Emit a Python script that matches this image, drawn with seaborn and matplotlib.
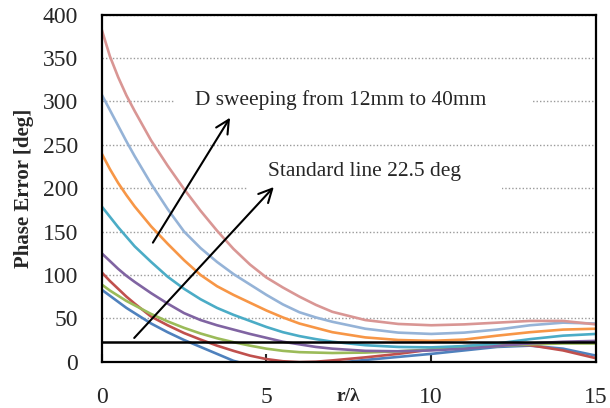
import numpy as np
import pandas as pd
import matplotlib
matplotlib.use("Agg")
import matplotlib.pyplot as plt
from matplotlib.patches import Rectangle
import seaborn as sns

# r/lambda sample positions
r_lambda = [0, 0.25, 0.5, 0.75, 1, 1.5, 2, 2.5, 3, 3.5, 4, 4.5, 5, 5.5, 6, 6.5,
            7, 8, 9, 10, 11, 12, 13, 14, 15]

# phase error [deg] per aperture size D (12mm ... 40mm)
err_blue = [83, 76, 69, 62, 56, 44, 34, 25, 17, 9, 1, -4, -7, -8, -8, -6,
            -2, 2, 5.5, 9, 13, 17, 18.5, 15, 7]
err_red = [103, 93, 84, 75, 67, 52, 42, 33, 25.5, 18.5, 12.5, 7, 3, 0.5, -0.5, 0,
           1.5, 5, 9, 14, 18, 20, 19, 13, 4]
err_green = [89, 82, 76, 70, 65, 55, 46.5, 39, 32.5, 27, 22.5, 18.5, 15, 12.5, 11, 10.5,
             10, 10.5, 12, 14, 16, 18, 20, 21, 21]
err_purple = [125, 116, 107, 99, 92, 79, 67, 56, 48, 42, 37, 32, 27.5, 23, 20, 17,
              15, 12.5, 12, 13, 15, 18, 21, 23, 24]
err_teal = [179, 167, 155, 144, 133, 115, 98, 84, 72, 62, 54, 47, 40, 34, 29.5, 26,
            23, 19, 17, 16.5, 18, 21, 26, 30, 32]
err_orange = [240, 222, 206, 192, 179, 156, 136, 117, 100, 87, 77, 68, 59, 51, 44, 39,
              34, 28, 25, 24, 25.5, 30, 34, 37, 38]
err_lightblue = [308, 290, 272, 254, 237, 205, 176, 150, 131, 115, 101, 89, 77, 66, 57, 51,
                 46, 38, 33.5, 32, 33.5, 37, 42, 45, 44]
err_pink = [383, 352, 328, 307, 289, 255, 226, 199, 174, 151, 130, 112, 97, 85.5, 75, 65.5,
            57.5, 48, 43.5, 42, 43, 45, 47, 47, 43]

series = [err_blue, err_red, err_green, err_purple,
          err_teal, err_orange, err_lightblue, err_pink]
colors = ["#4F81BD", "#C0504D", "#9BBB59", "#8064A2",
          "#4BACC6", "#F79646", "#95B3D7", "#D99694"]

standard_line = 22.5
x_ticks = [0, 5, 10, 15]
y_ticks = [0, 50, 100, 150, 200, 250, 300, 350, 400]

rows = []
for i, vals in enumerate(series):
    for x, y in zip(r_lambda, vals):
        rows.append({"r": x, "err": y, "D": f"D{i}"})
df = pd.DataFrame(rows)

sns.set_style("white")
plt.rcParams["font.family"] = ["Liberation Serif", "DejaVu Serif"]

fig = plt.figure(figsize=(6.10, 4.08), dpi=100)
ax = fig.add_axes([0.1667, 0.1135, 0.8103, 0.8505])

ax.set_axisbelow(True)
ax.yaxis.grid(True, linestyle=(0, (1, 1.5)), color="#9a9a9a", linewidth=1.0)
ax.xaxis.grid(False)

sns.lineplot(data=df, x="r", y="err", hue="D", palette=colors,
             linewidth=1.9, legend=False, ax=ax, zorder=2)
for ln in ax.get_lines():
    ln.set_solid_joinstyle("round")

ax.axhline(standard_line, color="black", linewidth=1.8, zorder=3)

# white boxes behind the annotation texts (hide gridline segments)
ax.add_patch(Rectangle((2.22, 278), 10.82, 41, facecolor="white",
                       edgecolor="none", zorder=1))
ax.add_patch(Rectangle((4.4, 192), 7.76, 52, facecolor="white",
                       edgecolor="none", zorder=1))

ax.text(2.83, 301.5, "D sweeping from 12mm to 40mm", fontsize=15.4,
        va="center", ha="left", zorder=4)
ax.text(5.04, 219, "Standard line 22.5 deg", fontsize=15.4,
        va="center", ha="left", zorder=4)

arrow_kw = dict(arrowstyle="->", color="black", lw=1.5, mutation_scale=24)
ax.annotate("", xy=(3.94, 284), xytext=(1.51, 134.5), arrowprops=arrow_kw, zorder=4)
ax.annotate("", xy=(5.28, 203.7), xytext=(0.93, 25), arrowprops=arrow_kw, zorder=4)

ax.set_xlim(0, 15)
ax.set_ylim(0, 400)
ax.set_xticks(x_ticks)
ax.set_yticks(y_ticks)
ax.tick_params(axis="x", direction="in", length=6, width=1.5, pad=18,
               labelsize=17, bottom=True)
ax.tick_params(axis="y", length=0, pad=17, labelsize=17)

for s in ax.spines.values():
    s.set_visible(True)
    s.set_color("black")
    s.set_linewidth(1.6)

ax.set_ylabel("Phase Error [deg]", fontsize=15, fontweight="bold", labelpad=6)
ax.set_xlabel("r/λ", fontsize=14, fontweight="bold")
ax.xaxis.set_label_coords(0.5, -0.099)
ax.xaxis.label.set_va("center")

fig.savefig("out.png", dpi=100)
